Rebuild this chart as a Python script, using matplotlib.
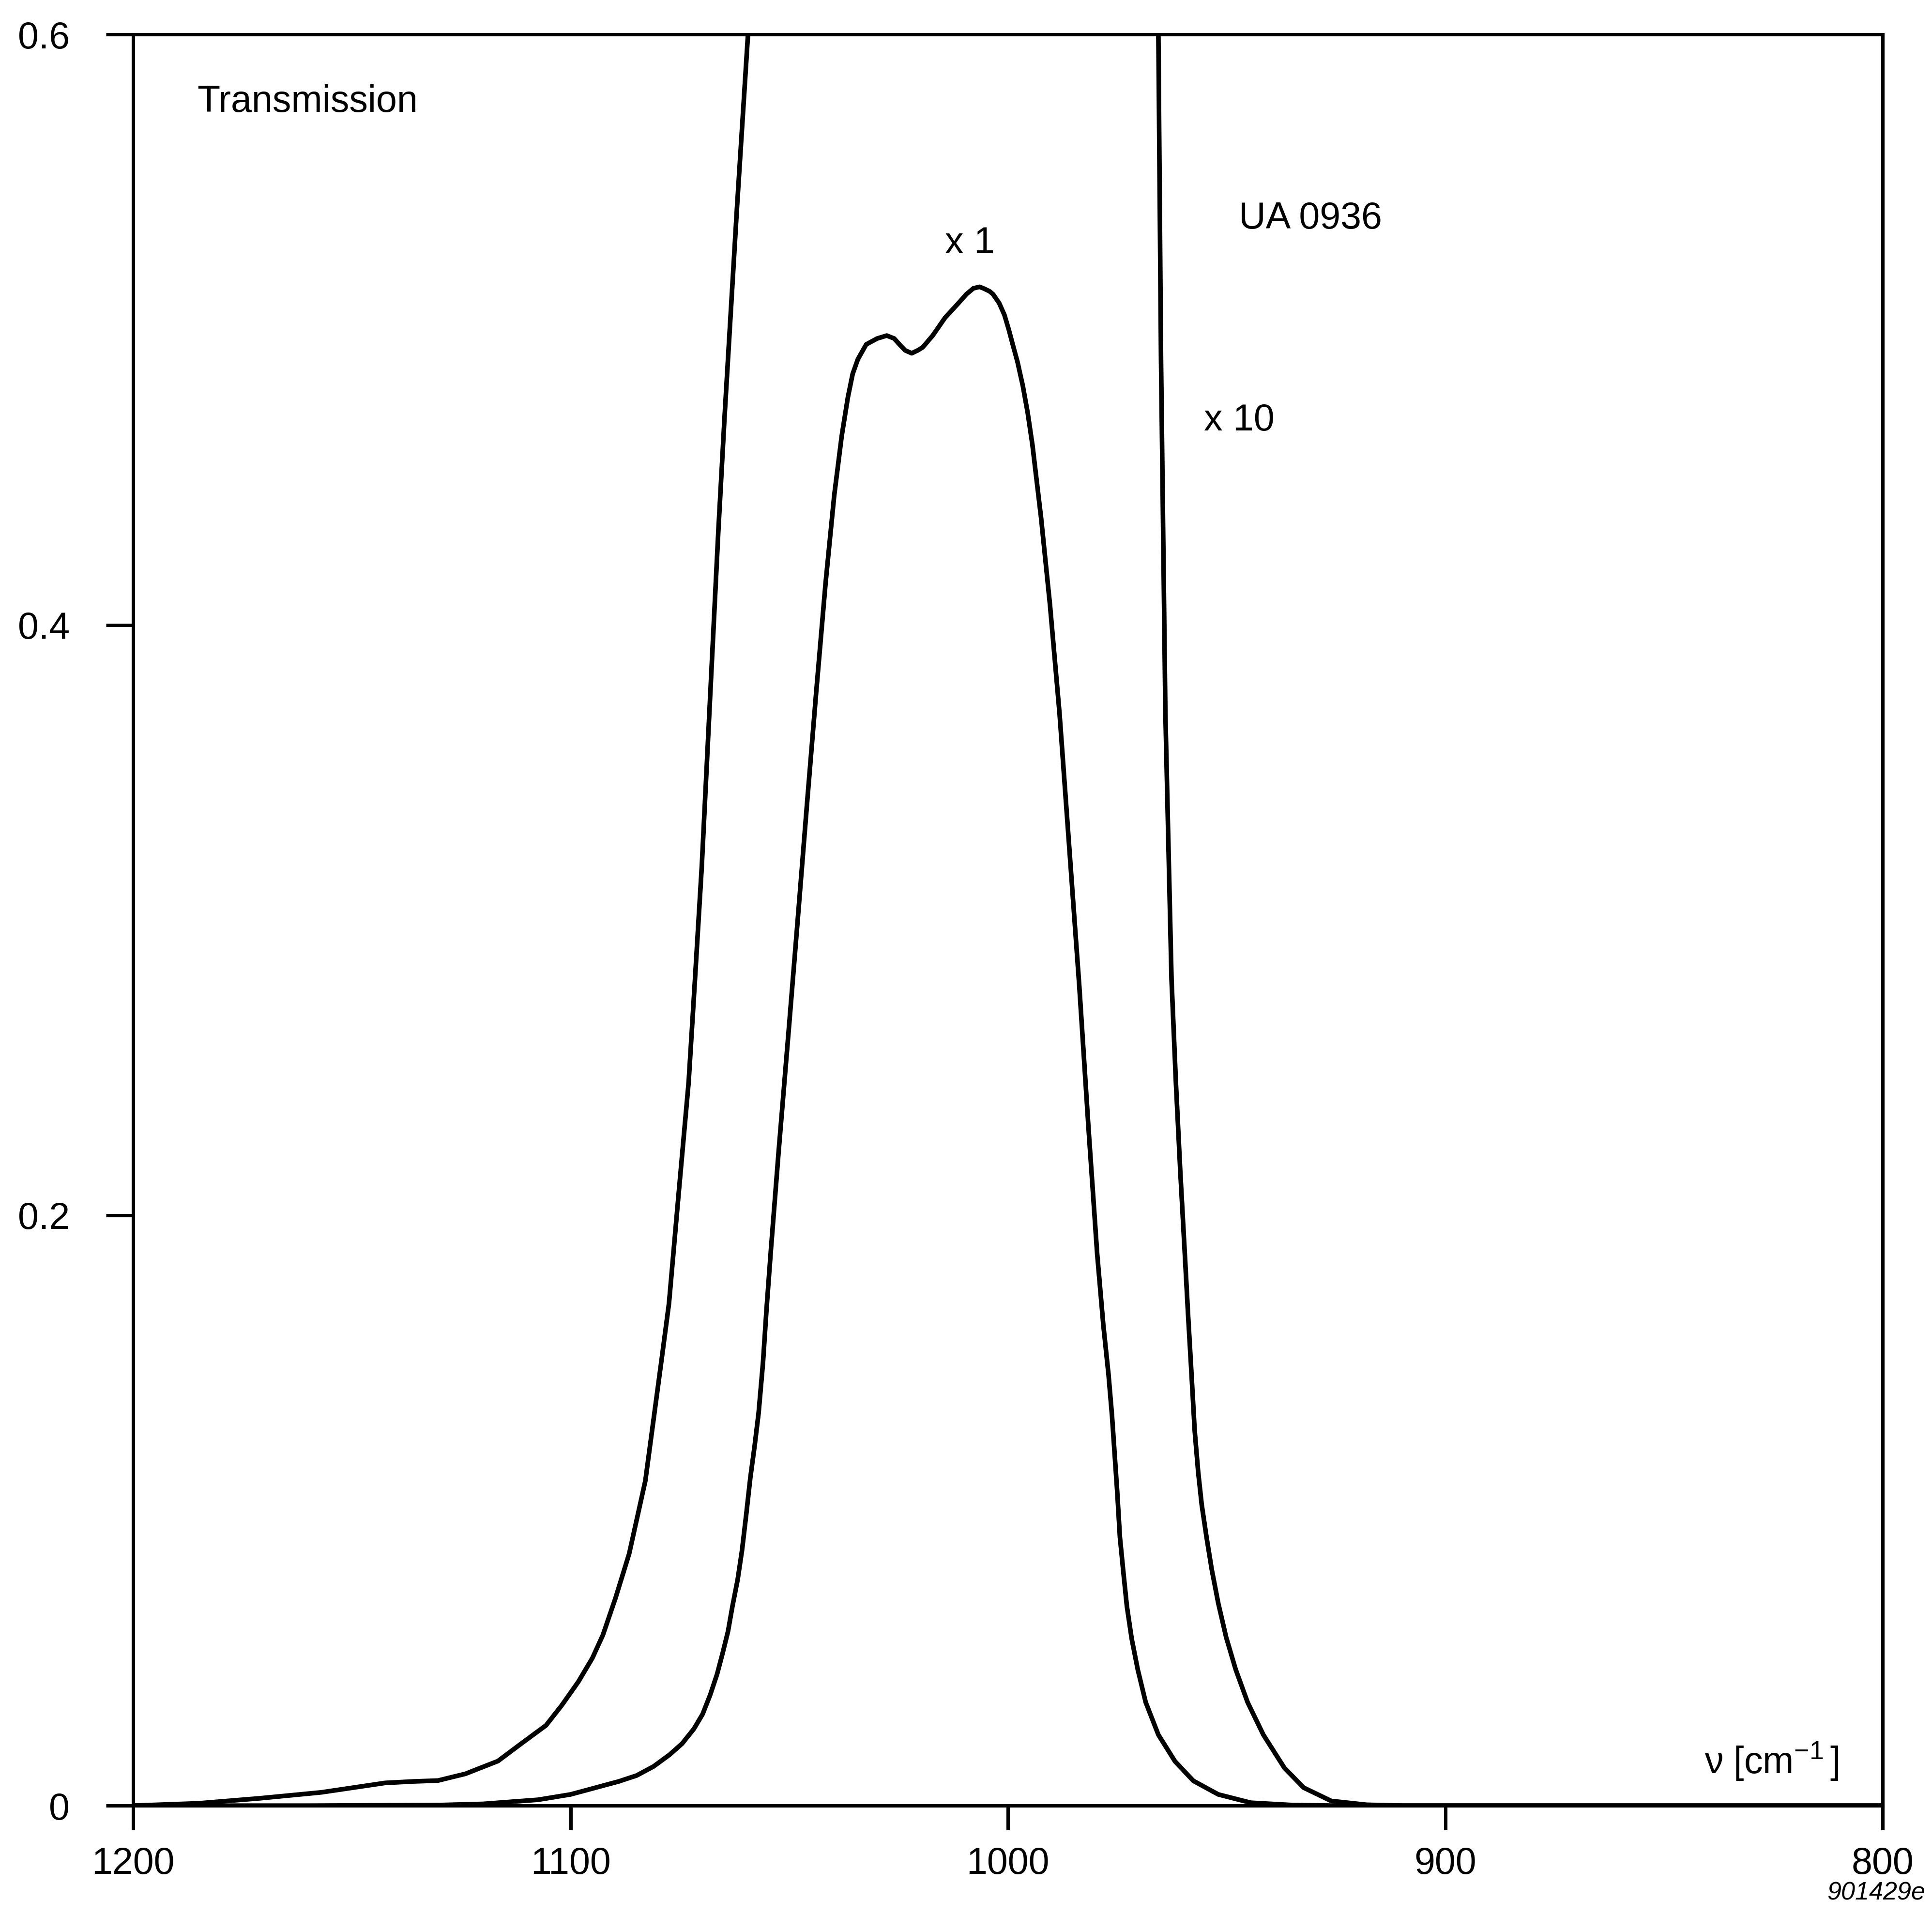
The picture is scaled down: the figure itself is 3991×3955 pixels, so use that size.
"""Transmission spectrum of filter UA 0936 (x1 and x10 traces), redrawn with matplotlib."""
import numpy as np
import matplotlib
matplotlib.use("Agg")
import matplotlib.pyplot as plt

# --- data -----------------------------------------------------------------
# x1 trace: wavenumber [cm^-1] -> transmission
WN_X1 = [1200, 1160, 1130, 1120, 1107.4, 1100, 1094.5, 1089, 1084.9, 1081,
         1077.4, 1074.5, 1071.8, 1069.8, 1068.1, 1066.5, 1065.2, 1064, 1063,
         1061.8, 1060.8, 1059.8, 1058.9, 1057.9, 1057, 1056, 1055.2, 1054.2,
         1052.4, 1050.1, 1047.9, 1045.9, 1043.9, 1041.7, 1039.7, 1038.0,
         1036.6, 1035.5, 1034.3, 1032.4, 1029.9, 1027.7, 1026, 1024.8, 1023.5,
         1022.0, 1020.6, 1019.5, 1017.2, 1014.4, 1011.3, 1009.5, 1007.9,
         1006.5, 1005.6, 1004.2, 1003.4, 1002, 1000.8, 999.8, 998.9, 997.8,
         996.6, 995.5, 994.4, 992.4, 990.4, 988.2, 985.9, 983.7, 981.6, 979.6,
         978.2, 977.0, 976.2, 975.6, 975.0, 974.4, 973.6, 972.8, 971.7, 970.3,
         968.5, 965.6, 961.8, 957.6, 951.9, 944.5, 935, 925, 800]
T_X1 = [0.0, 0.0, 0.0002, 0.0006, 0.002, 0.0038, 0.006, 0.0082, 0.0102, 0.0133,
        0.0172, 0.021, 0.026, 0.031, 0.0374, 0.0445, 0.0518, 0.059, 0.0674,
        0.0765, 0.0864, 0.099, 0.111, 0.122, 0.133, 0.150, 0.168, 0.188,
        0.222, 0.263, 0.303, 0.340, 0.376, 0.414, 0.444, 0.464,
        0.477, 0.485, 0.490, 0.495, 0.497, 0.498, 0.497, 0.495, 0.493,
        0.492, 0.493, 0.494, 0.498, 0.504, 0.509, 0.512, 0.514,
        0.5145, 0.514, 0.513, 0.512, 0.509, 0.505, 0.500, 0.495, 0.489,
        0.481, 0.472, 0.461, 0.436, 0.407, 0.370, 0.323, 0.278, 0.230, 0.187,
        0.163, 0.146, 0.132, 0.119, 0.106, 0.091, 0.079, 0.0675, 0.0565, 0.046,
        0.035, 0.024, 0.015, 0.0084, 0.0038, 0.001, 0.0002, 0.0, 0.0]

# x10 trace: goes off scale between the two branches (NaN = gap)
WN_X10 = [1200, 1185, 1171, 1157, 1142.4, 1136, 1130.3, 1124, 1116.6, 1111.1,
          1105.6, 1102, 1098.2, 1095, 1092.6, 1089.7, 1086.6, 1082.9, 1081,
          1079.1, 1077.5, 1075.3, 1073, 1071.5, 1070, 1068.8, 1067.6, 1066.2,
          1064.8, 1063.4, 1062, 1060.5, 1059.0, 1058.0, np.nan,
          966.3, 965.6, 965.0, 964.0, 962.6, 961.6, 960.6, 959.6, 958.8, 958.1,
          957.3, 956.5, 955.7, 954.6, 953.4, 951.9, 950.1, 947.9, 945.2, 941.6,
          936.8, 932.4, 926.1, 918, 910, 800]
T_X10 = [0.0, 0.0008, 0.0025, 0.0045, 0.0077, 0.0082, 0.0085, 0.0108, 0.0151,
         0.0212, 0.0272, 0.034, 0.042, 0.050, 0.0578, 0.0704, 0.0853, 0.110,
         0.131, 0.152, 0.170, 0.207, 0.245, 0.281, 0.318, 0.354, 0.390, 0.432,
         0.470, 0.505, 0.540, 0.575, 0.610, 0.635, np.nan,
         0.630, 0.600, 0.490, 0.370, 0.280, 0.245, 0.215, 0.188, 0.166, 0.148,
         0.127, 0.113, 0.102, 0.091, 0.080, 0.0685, 0.057, 0.046, 0.035, 0.024,
         0.0128, 0.0061, 0.0016, 0.0003, 0.0, 0.0]

X_TICKS = [1200, 1100, 1000, 900, 800]
Y_TICKS = [0, 0.2, 0.4, 0.6]
Y_TICK_LABELS = ["0", "0.2", "0.4", "0.6"]

FONT = "Liberation Sans"
FS = 18.5
LW = 2.3


def main() -> None:
    plt.rcParams["font.family"] = [FONT, "DejaVu Sans"]
    plt.rcParams["mathtext.fontset"] = "custom"
    plt.rcParams["mathtext.rm"] = FONT
    plt.rcParams["mathtext.it"] = FONT + ":italic"

    fig = plt.figure(figsize=(3991 / 300, 3955 / 300), dpi=300)
    ax = fig.add_axes([0.0689, 0.0571, 0.9056, 0.9249])

    ax.plot(WN_X1, T_X1, color="black", lw=LW,
            solid_joinstyle="round", solid_capstyle="round")
    ax.plot(WN_X10, T_X10, color="black", lw=LW,
            solid_joinstyle="round", solid_capstyle="round")

    ax.set_xlim(1200, 800)
    ax.set_ylim(0, 0.6)
    ax.set_xticks(X_TICKS)
    ax.set_yticks(Y_TICKS)
    ax.set_yticklabels(Y_TICK_LABELS)
    ax.tick_params(axis="both", direction="out", width=1.7, labelsize=FS, color="black")
    ax.tick_params(axis="x", length=12, pad=8)
    ax.tick_params(axis="y", length=13.5, pad=18)
    for s in ax.spines.values():
        s.set_linewidth(1.7)

    ax.text(0.0365, 0.962, "Transmission", transform=ax.transAxes,
            fontsize=FS, ha="left", va="center")
    ax.text(0.632, 0.896, "UA 0936", transform=ax.transAxes,
            fontsize=FS, ha="left", va="center")
    ax.text(0.464, 0.882, "x 1", transform=ax.transAxes,
            fontsize=FS, ha="left", va="center")
    ax.text(0.612, 0.782, "x 10", transform=ax.transAxes,
            fontsize=FS, ha="left", va="center")
    ax.text(0.898, 0.025, "ν [cm$^{-1}\\,$]", transform=ax.transAxes,
            fontsize=FS, ha="left", va="center")

    fig.text(0.9965, 0.0114, "901429e", fontsize=12.5, style="italic",
             ha="right", va="center")

    fig.savefig("out.png", dpi=300, facecolor="white")


if __name__ == "__main__":
    main()
